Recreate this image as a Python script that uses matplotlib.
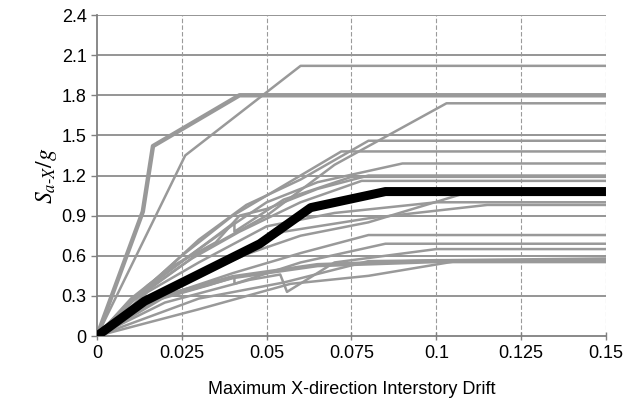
import matplotlib
matplotlib.use('Agg')
import matplotlib.pyplot as plt
import numpy as np

plt.rcParams['font.family'] = ['Liberation Sans', 'DejaVu Sans']
plt.rcParams['mathtext.fontset'] = 'stix'

# gray IDA curves: (drift, Sa) pairs
curves = [
    ([0, 0.026, 0.060, 0.15], [0, 1.35, 2.02, 2.02]),
    ([0, 0.010, 0.030, 0.050, 0.070, 0.103, 0.15], [0, 0.25, 0.62, 0.90, 1.28, 1.74, 1.74]),
    ([0, 0.012, 0.030, 0.044, 0.060, 0.080, 0.15], [0, 0.30, 0.72, 0.98, 1.17, 1.46, 1.46]),
    ([0, 0.013, 0.025, 0.040, 0.050, 0.072, 0.15], [0, 0.33, 0.60, 0.90, 1.05, 1.38, 1.38]),
    ([0, 0.010, 0.030, 0.040, 0.050, 0.065, 0.090, 0.15], [0, 0.27, 0.65, 0.83, 1.00, 1.15, 1.29, 1.29]),
    ([0, 0.015, 0.030, 0.0405, 0.0405, 0.055, 0.075, 0.15], [0, 0.38, 0.65, 0.85, 0.78, 1.02, 1.19, 1.19]),
    ([0, 0.012, 0.028, 0.042, 0.060, 0.078, 0.15], [0, 0.30, 0.58, 0.78, 1.00, 1.16, 1.16]),
    ([0, 0.010, 0.022, 0.035, 0.042, 0.050, 0.065, 0.080, 0.15], [0, 0.28, 0.52, 0.70, 0.90, 0.95, 1.10, 1.20, 1.20]),
    ([0, 0.015, 0.030, 0.050, 0.070, 0.100, 0.15], [0, 0.33, 0.55, 0.82, 0.92, 1.00, 1.00]),
    ([0, 0.020, 0.040, 0.055, 0.080, 0.115, 0.15], [0, 0.35, 0.60, 0.78, 0.88, 0.98, 0.98]),
    ([0, 0.020, 0.045, 0.060, 0.080, 0.110, 0.15], [0, 0.35, 0.62, 0.75, 0.85, 1.08, 1.08]),
    ([0, 0.020, 0.040, 0.060, 0.080, 0.15], [0, 0.30, 0.47, 0.62, 0.755, 0.755]),
    ([0, 0.015, 0.033, 0.0405, 0.0405, 0.060, 0.085, 0.15], [0, 0.25, 0.38, 0.44, 0.39, 0.55, 0.69, 0.69]),
    ([0, 0.020, 0.045, 0.054, 0.056, 0.070, 0.100, 0.15], [0, 0.25, 0.42, 0.46, 0.33, 0.55, 0.65, 0.65]),
    ([0, 0.030, 0.057, 0.080, 0.105, 0.15], [0, 0.20, 0.39, 0.45, 0.556, 0.556]),
    ([0, 0.030, 0.055, 0.080, 0.15], [0, 0.28, 0.40, 0.56, 0.58]),
]
thick_curves = [
    ([0, 0.0135, 0.0165, 0.042, 0.15], [0, 0.93, 1.42, 1.80, 1.80]),
    ([0, 0.020, 0.040, 0.065, 0.100, 0.15], [0, 0.30, 0.44, 0.53, 0.56, 0.56]),
]

median_x = [0, 0.014, 0.048, 0.063, 0.085, 0.15]
median_y = [0, 0.26, 0.69, 0.96, 1.08, 1.08]

xticks = [0, 0.025, 0.05, 0.075, 0.1, 0.125, 0.15]
xtick_labels = ['0', '0.025', '0.05', '0.075', '0.1', '0.125', '0.15']
yticks = [0, 0.3, 0.6, 0.9, 1.2, 1.5, 1.8, 2.1, 2.4]
ytick_labels = ['0', '0.3', '0.6', '0.9', '1.2', '1.5', '1.8', '2.1', '2.4']

fig = plt.figure(figsize=(6.29, 4.07), dpi=100)
ax = fig.add_axes([0.1542, 0.1744, 0.8092, 0.7887])

for yv in yticks[1:]:
    ax.axhline(yv, color='#8c8c8c', lw=1.3, zorder=1)
for xv in xticks[1:]:
    ax.axvline(xv, color='#9a9a9a', lw=0.8, ls=(0, (4, 2)), zorder=1)

for cx, cy in curves:
    ax.plot(cx, cy, color='#999999', lw=1.8, zorder=2)
for cx, cy in thick_curves:
    ax.plot(cx, cy, color='#999999', lw=3.2, zorder=2)
ax.plot(median_x, median_y, color='black', lw=6.5, zorder=3, solid_capstyle='butt')

ax.set_xlim(0, 0.15)
ax.set_ylim(0, 2.4)
ax.set_xticks(xticks)
ax.set_xticklabels(xtick_labels)
ax.set_yticks(yticks)
ax.set_yticklabels(ytick_labels)
ax.tick_params(colors='#808080', labelcolor='black', labelsize=13, length=4, width=1)
ax.tick_params(axis='x', direction='inout', length=6)
for s in ['top', 'right']:
    ax.spines[s].set_visible(False)
for s in ['left', 'bottom']:
    ax.spines[s].set_color('#808080')
    ax.spines[s].set_linewidth(1.3)

ax.set_xlabel('Maximum X-direction Interstory Drift', fontsize=13, labelpad=14)
ax.set_ylabel(r'$S_{a\text{-}X}/g$', fontsize=17, labelpad=2)

fig.savefig('out.png', dpi=100)
